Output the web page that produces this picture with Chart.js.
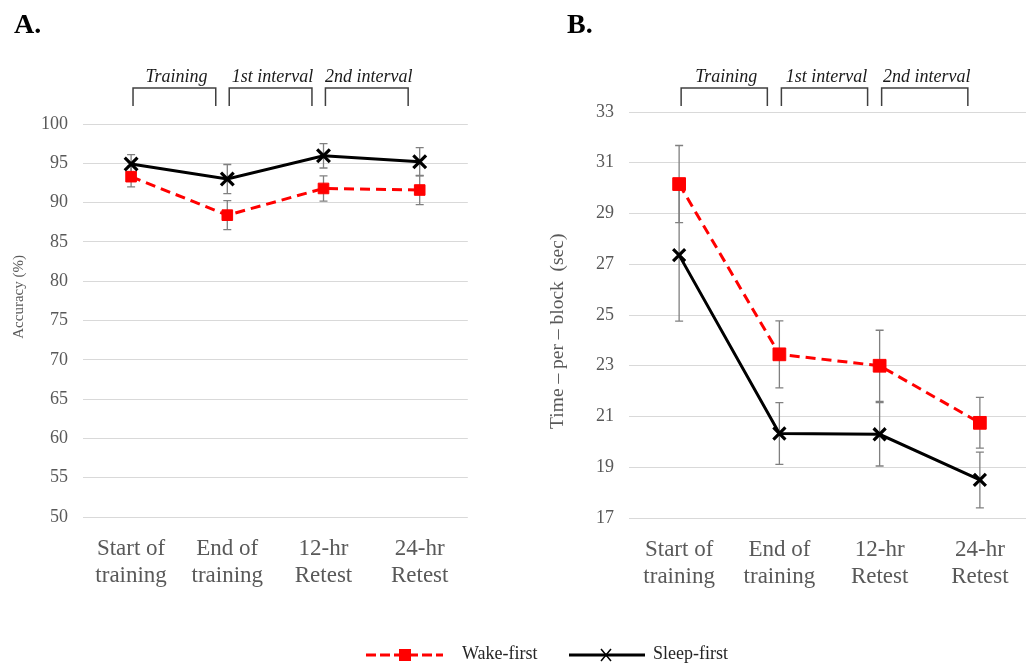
<!DOCTYPE html>
<html><head><meta charset="utf-8">
<script src="https://cdn.jsdelivr.net/npm/chart.js@4.4.0/dist/chart.umd.min.js"></script>
<style>
html,body{margin:0;padding:0;width:1026px;height:667px;overflow:hidden;background:#fff;}
#c1{position:absolute;left:0;top:0;}
#c2{position:absolute;left:540px;top:0;}
#ov{position:absolute;left:0;top:0;pointer-events:none;}
</style></head><body>
<canvas id="c1" width="480" height="620"></canvas>
<canvas id="c2" width="502" height="620"></canvas>
<svg id="ov" width="1026" height="667" font-family="Liberation Serif">
<text id="pA" x="14" y="33" font-weight="bold" font-size="28" fill="#000"></text>
<text id="pB" x="567" y="33" font-weight="bold" font-size="28" fill="#000"></text>
<line x1="366" y1="655" x2="443" y2="655" stroke="#ff0000" stroke-width="3" stroke-dasharray="10,4"/>
<rect x="399" y="649" width="12" height="12" fill="#ff0000"/>
<text id="lg0" x="462" y="659" font-size="18" fill="#262626"></text>
<line x1="569" y1="655" x2="645" y2="655" stroke="#000" stroke-width="3"/>
<path d="M601 649 L611 661 M611 649 L601 661" stroke="#000" stroke-width="1.5"/>
<text id="lg1" x="653" y="659" font-size="18" fill="#262626"></text>
</svg>
<script>
const panelLabels = ['A.', 'B.'];
const categories = [['Start of','training'],['End of','training'],['12-hr','Retest'],['24-hr','Retest']];
const seriesNames = ['Wake-first','Sleep-first'];
const intervalLabels = ['Training','1st interval','2nd interval'];
const accuracyTitle = 'Accuracy (%)';
const timeTitle = 'Time \u2013 per \u2013 block  (sec)';

const accuracyWake = [93.3, 88.4, 91.8, 91.6];
const accuracyWakeErr = [1.3, 1.85, 1.6, 1.85];
const accuracySleep = [94.9, 93.0, 95.95, 95.2];
const accuracySleepErr = [1.2, 1.85, 1.55, 1.8];

const timeWake = [30.16, 23.45, 23.0, 20.75];
const timeWakeErr = [1.52, 1.32, 1.4, 1.0];
const timeSleep = [27.36, 20.33, 20.3, 18.5];
const timeSleepErr = [2.6, 1.22, 1.25, 1.1];

const accuracyAxis = [50, 100, 5];
const timeAxis = [17, 33, 2];

document.getElementById('pA').textContent = panelLabels[0];
document.getElementById('pB').textContent = panelLabels[1];
document.getElementById('lg0').textContent = seriesNames[0];
document.getElementById('lg1').textContent = seriesNames[1];

Chart.defaults.font.family = '"Liberation Serif"';

const errorBars = {
  id: 'errorBars',
  beforeDatasetsDraw(chart) {
    const ctx = chart.ctx, ys = chart.scales.y;
    ctx.save();
    ctx.strokeStyle = '#808080';
    ctx.lineWidth = 1.3;
    chart.data.datasets.forEach((ds, di) => {
      const meta = chart.getDatasetMeta(di);
      ds.errors.forEach((e, i) => {
        const x = meta.data[i].x, v = ds.data[i];
        const y1 = ys.getPixelForValue(v + e), y2 = ys.getPixelForValue(v - e);
        ctx.beginPath();
        ctx.moveTo(x, y1); ctx.lineTo(x, y2);
        ctx.moveTo(x - 4, y1); ctx.lineTo(x + 4, y1);
        ctx.moveTo(x - 4, y2); ctx.lineTo(x + 4, y2);
        ctx.stroke();
      });
    });
    ctx.restore();
  }
};

const brackets = {
  id: 'brackets',
  afterDraw(chart) {
    const ctx = chart.ctx, xs = chart.scales.x;
    ctx.save();
    for (let i = 0; i < intervalLabels.length; i++) {
      const a = xs.getPixelForValue(i), b = xs.getPixelForValue(i + 1), d = b - a;
      const x1 = a + 0.02 * d, x2 = a + 0.88 * d;
      ctx.strokeStyle = '#404040';
      ctx.lineWidth = 1.5;
      ctx.beginPath();
      ctx.moveTo(x1, 106); ctx.lineTo(x1, 88); ctx.lineTo(x2, 88); ctx.lineTo(x2, 106);
      ctx.stroke();
      ctx.fillStyle = '#1a1a1a';
      ctx.font = 'italic 18px "Liberation Serif"';
      ctx.textAlign = 'center';
      ctx.textBaseline = 'alphabetic';
      ctx.fillText(intervalLabels[i], (x1 + x2) / 2 + 2, 82);
    }
    ctx.restore();
  }
};

const yTitle = {
  id: 'yTitle',
  afterDraw(chart, args, o) {
    const ctx = chart.ctx, ca = chart.chartArea;
    ctx.save();
    ctx.translate(o.x, ca.top + o.frac * (ca.bottom - ca.top));
    ctx.rotate(-Math.PI / 2);
    ctx.font = o.font;
    ctx.fillStyle = '#595959';
    ctx.textAlign = 'center';
    ctx.textBaseline = 'middle';
    ctx.fillText(o.text, 0, 0);
    ctx.restore();
  }
};

function makeChart(id, wake, wakeErr, sleep, sleepErr, axis, yw, xh, pad, title, rSq, rX) {
  return new Chart(document.getElementById(id), {
    type: 'line',
    data: {
      labels: categories,
      datasets: [
        { label: seriesNames[1], data: sleep, errors: sleepErr,
          borderColor: '#000', borderWidth: 3, tension: 0,
          pointStyle: 'crossRot', pointRadius: rX, pointBorderWidth: 3.2,
          pointBorderColor: '#000', pointBackgroundColor: '#000' },
        { label: seriesNames[0], data: wake, errors: wakeErr,
          borderColor: '#ff0000', borderWidth: 3, borderDash: [10, 6], tension: 0,
          pointStyle: 'rect', pointRadius: rSq, pointBorderWidth: 1,
          pointBorderColor: '#ff0000', pointBackgroundColor: '#ff0000' }
      ]
    },
    options: {
      responsive: false, animation: false, devicePixelRatio: 1,
      layout: { padding: pad },
      plugins: { legend: { display: false }, tooltip: { enabled: false }, yTitle: title },
      scales: {
        x: {
          offset: true,
          grid: { display: false },
          border: { display: false },
          ticks: { font: { size: 23 }, color: '#595959', padding: 10, maxRotation: 0, autoSkip: false },
          afterFit(s) { s.height = xh; }
        },
        y: {
          min: axis[0], max: axis[1],
          grid: { color: '#d9d9d9', lineWidth: 1, drawTicks: false },
          border: { display: false },
          ticks: { stepSize: axis[2], font: { size: 18 }, color: '#595959', padding: 15 },
          afterFit(s) { s.width = yw; }
        }
      }
    },
    plugins: [errorBars, brackets, yTitle]
  });
}

makeChart('c1', accuracyWake, accuracyWakeErr, accuracySleep, accuracySleepErr, accuracyAxis,
  83, 103, { top: 124, left: 0, right: 12, bottom: 0 },
  { text: accuracyTitle, font: '15px "Liberation Serif"', x: 19, frac: 0.44 }, 7.5, 9);
makeChart('c2', timeWake, timeWakeErr, timeSleep, timeSleepErr, timeAxis,
  89, 102, { top: 112, left: 0, right: 12, bottom: 0 },
  { text: timeTitle, font: '19.5px "Liberation Serif"', x: 18, frac: 0.54 }, 9, 8.5);
</script>
</body></html>
